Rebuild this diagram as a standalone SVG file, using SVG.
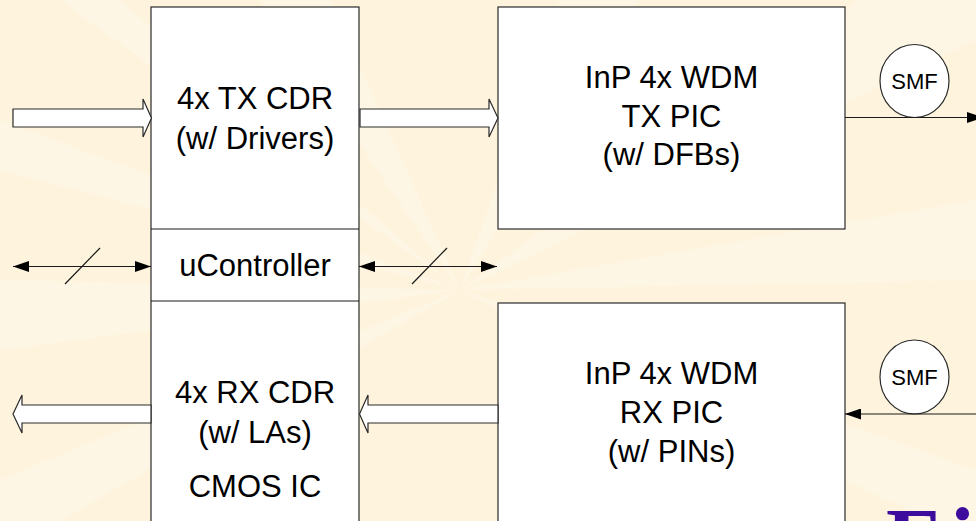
<svg xmlns="http://www.w3.org/2000/svg" width="976" height="521" viewBox="0 0 976 521">
<style>
.box{fill:#ffffff;stroke:#2a2a2a;stroke-width:1.2}
.big{fill:#ffffff;stroke:#2a2a2a;stroke-width:1.2;stroke-linejoin:miter}
.ln{stroke:#1a1a1a;stroke-width:1.2;fill:none}
.t{font-family:"Liberation Sans",Arial,sans-serif;font-size:31px;fill:#000;text-anchor:middle}
.s{font-family:"Liberation Sans",Arial,sans-serif;font-size:22px;fill:#000;text-anchor:middle}
.ray{fill:#fffaf0;opacity:0.45}
</style>
<defs>
<marker id="ah" viewBox="0 0 16 11" refX="16" refY="5.5" markerWidth="16" markerHeight="11" markerUnits="userSpaceOnUse" orient="auto-start-reverse">
<path d="M0,0 L16,5.5 L0,11 Z" fill="#000"/>
</marker>
</defs>
<g id="background">
<rect x="0" y="0" width="976" height="521" fill="#fef3dc"/>
<polygon class="ray" points="460,290 60,0 120,0"/>
<polygon class="ray" points="460,290 260,0 330,0"/>
<polygon class="ray" points="460,290 560,0 640,0"/>
<polygon class="ray" points="460,290 860,0 976,0 976,40"/>
<polygon class="ray" points="460,290 976,200 976,280"/>
<polygon class="ray" points="460,290 976,470 976,521 930,521"/>
<polygon class="ray" points="460,290 0,280 0,350"/>
<polygon class="ray" points="460,290 0,480 0,521 60,521"/>
<polygon class="ray" points="460,290 0,120 0,170"/>
</g>
<g id="cmos-ic">
<rect class="box" x="151" y="7" width="208" height="530"/>
<line class="ln" x1="151" y1="229" x2="359" y2="229"/>
<line class="ln" x1="151" y1="301" x2="359" y2="301"/>
<text class="t" x="255" y="109">4x TX CDR</text>
<text class="t" x="255" y="149">(w/ Drivers)</text>
<text class="t" x="255" y="276">uController</text>
<text class="t" x="255" y="403">4x RX CDR</text>
<text class="t" x="255" y="443">(w/ LAs)</text>
<text class="t" x="255" y="497">CMOS IC</text>
</g>
<g id="tx-pic">
<rect class="box" x="498" y="7" width="347" height="222"/>
<text class="t" x="671.5" y="88">InP 4x WDM</text>
<text class="t" x="671.5" y="127">TX PIC</text>
<text class="t" x="671.5" y="165">(w/ DFBs)</text>
</g>
<g id="rx-pic">
<rect class="box" x="498" y="303" width="347" height="240"/>
<text class="t" x="671.5" y="384">InP 4x WDM</text>
<text class="t" x="671.5" y="423">RX PIC</text>
<text class="t" x="671.5" y="462">(w/ PINs)</text>
</g>
<g id="smf-tx">
<ellipse class="box" cx="914.5" cy="81" rx="34.5" ry="36.5"/>
<text class="s" x="914.5" y="88.5">SMF</text>
</g>
<g id="smf-rx">
<ellipse class="box" cx="914.5" cy="377" rx="34.5" ry="37"/>
<text class="s" x="914.5" y="385">SMF</text>
</g>
<g id="connectors">
<polygon class="big" points="13,109 143,109 143,99 151.5,118 143,137 143,127 13,127"/>
<polygon class="big" points="360,109 489,109 489,99 498,118 489,137 489,127 360,127"/>
<polygon class="big" points="498,405 368,405 368,395 359.5,414 368,433 368,423 498,423"/>
<polygon class="big" points="151,405 22,405 22,395 13,414 22,433 22,423 151,423"/>
<line class="ln" x1="13" y1="266.5" x2="151" y2="266.5" marker-start="url(#ah)" marker-end="url(#ah)"/>
<line class="ln" x1="65" y1="284" x2="100" y2="248"/>
<line class="ln" x1="359" y1="266.5" x2="497" y2="266.5" marker-start="url(#ah)" marker-end="url(#ah)"/>
<line class="ln" x1="412" y1="284" x2="447" y2="248"/>
<line class="ln" x1="845" y1="117.5" x2="983" y2="117.5" marker-end="url(#ah)"/>
<line class="ln" x1="980" y1="414" x2="845" y2="414" marker-end="url(#ah)"/>
</g>
<text x="886 950" y="569" font-family="'Liberation Serif','Times New Roman',serif" font-size="88" font-weight="bold" fill="#3d0c9c">Fi</text>
</svg>
